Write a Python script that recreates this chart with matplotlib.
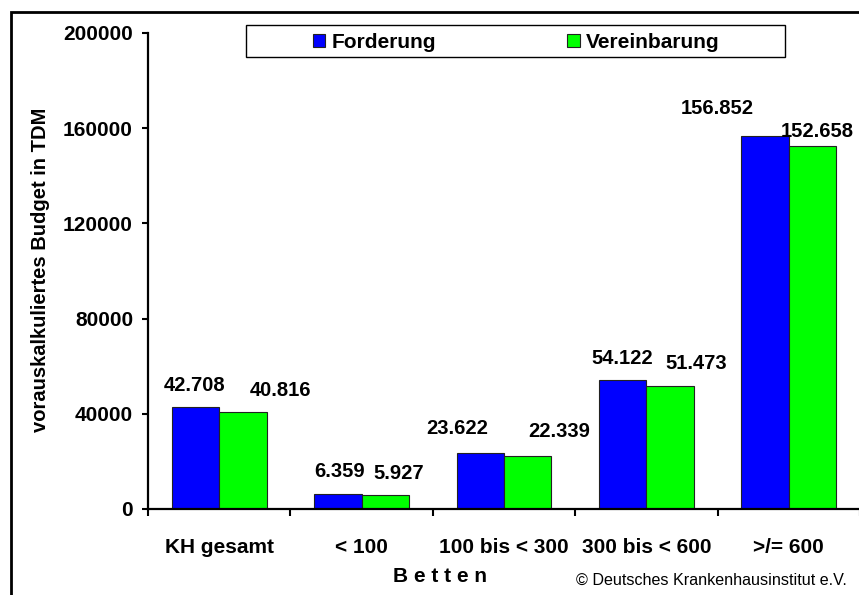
import matplotlib
matplotlib.use("Agg")
import matplotlib.pyplot as plt
from matplotlib.patches import Rectangle, Patch
import numpy as np

categories = ["KH gesamt", "< 100", "100 bis < 300", "300 bis < 600", ">/= 600"]
forderung = [42708, 6359, 23622, 54122, 156852]
vereinbarung = [40816, 5927, 22339, 51473, 152658]
forderung_labels = ["42.708", "6.359", "23.622", "54.122", "156.852"]
vereinbarung_labels = ["40.816", "5.927", "22.339", "51.473", "152.658"]
yticks = [0, 40000, 80000, 120000, 160000, 200000]

# label offsets in pixels (dx, dy) relative to bar top centre
f_off = [(-1, 21.5), (1.5, 22), (-23, 24), (0, 22), (-48, 27)]
v_off = [(37.5, 21.5), (13, 21.5), (31.5, 24), (26, 23), (5, 14.5)]

plt.rcParams['font.family'] = ['Liberation Sans', 'DejaVu Sans']

W, H = 859, 595
fig = plt.figure(figsize=(W / 100, H / 100), dpi=100)
ax = fig.add_axes([148 / W, 1 - 509 / H, (860 - 148) / W, (509 - 33) / H])

x = np.arange(len(categories))
bw = 1 / 3
ax.bar(x - bw / 2, forderung, bw, color="#0000FF", edgecolor="#222222", linewidth=0.8, label="Forderung")
ax.bar(x + bw / 2, vereinbarung, bw, color="#00FF00", edgecolor="#222222", linewidth=0.8, label="Vereinbarung")

px2pt = 72 / 100
for i in range(len(categories)):
    ax.annotate(forderung_labels[i], (x[i] - bw / 2, forderung[i]),
                xytext=(f_off[i][0] * px2pt, f_off[i][1] * px2pt), textcoords="offset points",
                ha="center", va="center", fontsize=14.5, fontweight="bold")
    ax.annotate(vereinbarung_labels[i], (x[i] + bw / 2, vereinbarung[i]),
                xytext=(v_off[i][0] * px2pt, v_off[i][1] * px2pt), textcoords="offset points",
                ha="center", va="center", fontsize=14.5, fontweight="bold")

ax.set_xlim(-0.5, len(categories) - 0.5)
ax.set_ylim(0, 200000)
ax.set_yticks(yticks)
ax.set_yticklabels([str(v) for v in yticks], fontsize=15, fontweight="bold")
ax.set_xticks(x)
ax.set_xticklabels(categories, fontsize=15, fontweight="bold")
ax.tick_params(axis="x", which="major", length=0, pad=21)
ax.set_xticks(np.arange(len(categories) + 1) - 0.5, minor=True)
ax.tick_params(axis="x", which="minor", length=5, width=1.5, direction="out")
ax.tick_params(axis="y", length=4.3, width=1.5, direction="out", pad=6.5)
for s in ["top", "right"]:
    ax.spines[s].set_visible(False)
for s in ["left", "bottom"]:
    ax.spines[s].set_linewidth(1.6)
ax.patch.set_alpha(0)

ax.set_ylabel("vorauskalkuliertes Budget in TDM", fontsize=14.5, fontweight="bold", labelpad=0)
ax.yaxis.set_label_coords((50 - 148) / (860 - 148), 0.502)

fig.text(440 / W, 1 - 576 / H, "B e t t e n", ha="center", va="center", fontsize=15, fontweight="bold")
fig.text(847 / W, 1 - 580 / H, "© Deutsches Krankenhausinstitut e.V.", ha="right", va="center", fontsize=11.6)

# outer frame
fig.add_artist(Rectangle((11 / W, -0.05), 1.1, 1 - 12 / H + 0.05, transform=fig.transFigure,
                         fill=False, edgecolor="black", linewidth=2, clip_on=False))

# legend frame
fig.add_artist(Rectangle((246 / W, 1 - 57 / H), (785 - 246) / W, 32 / H, transform=fig.transFigure,
                         fill=False, edgecolor="black", linewidth=1, clip_on=False))
handles = [Patch(facecolor="#0000FF", edgecolor="#222222", linewidth=0.8),
           Patch(facecolor="#00FF00", edgecolor="#222222", linewidth=0.8)]
leg = fig.legend(handles, ["Forderung", "Vereinbarung"], loc="center",
                 bbox_to_anchor=(516 / W, 1 - 42 / H), ncol=2, frameon=False,
                 prop={"size": 15, "weight": "bold"}, handlelength=0.6, handleheight=0.6,
                 handletextpad=0.3, columnspacing=6.3, borderpad=0)

fig.savefig("out.png", dpi=100)
